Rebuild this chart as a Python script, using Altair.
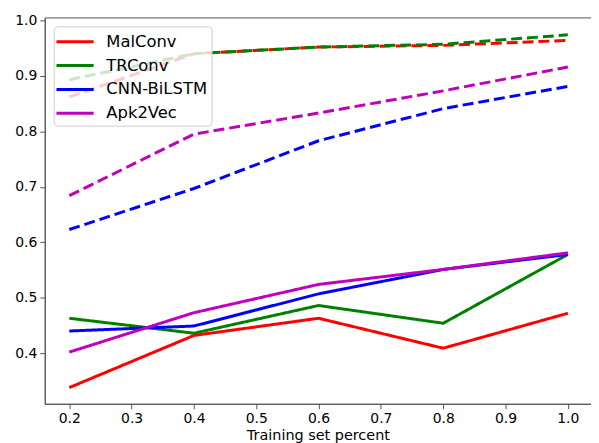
import altair as alt
import pandas as pd

x_vals = [0.2, 0.4, 0.6, 0.8, 1.0]
models = ["MalConv", "TRConv", "CNN-BiLSTM", "Apk2Vec"]
colors = ["#ff0000", "#008000", "#0000ff", "#bf00bf"]

solid = {
    "MalConv": [0.338, 0.432, 0.463, 0.409, 0.472],
    "TRConv": [0.463, 0.436, 0.486, 0.454, 0.578],
    "CNN-BiLSTM": [0.440, 0.449, 0.507, 0.551, 0.578],
    "Apk2Vec": [0.402, 0.473, 0.524, 0.551, 0.581],
}
dashed = {
    "MalConv": [0.862, 0.940, 0.952, 0.955, 0.964],
    "TRConv": [0.893, 0.940, 0.952, 0.957, 0.974],
    "CNN-BiLSTM": [0.623, 0.697, 0.783, 0.841, 0.881],
    "Apk2Vec": [0.684, 0.795, 0.833, 0.873, 0.916],
}

rows = []
for kind, d in [("dashed", dashed), ("solid", solid)]:
    for m in models:
        for xv, yv in zip(x_vals, d[m]):
            rows.append({"x": xv, "y": yv, "model": m, "kind": kind, "grp": m + kind})
df = pd.DataFrame(rows)

chart = alt.Chart(df).mark_line(strokeWidth=3).encode(
    x=alt.X("x:Q", title="Training set percent",
            scale=alt.Scale(domain=[0.1606, 1.0372], nice=False, zero=False),
            axis=alt.Axis(values=[0.2, 0.3, 0.4, 0.5, 0.6, 0.7, 0.8, 0.9, 1.0], format=".1f")),
    y=alt.Y("y:Q", title=None,
            scale=alt.Scale(domain=[0.3088, 1.0054], nice=False, zero=False),
            axis=alt.Axis(values=[0.4, 0.5, 0.6, 0.7, 0.8, 0.9, 1.0], format=".1f",
                          minExtent=37, maxExtent=37)),
    color=alt.Color("model:N", title=None,
                    scale=alt.Scale(domain=models, range=colors),
                    sort=models,
                    legend=alt.Legend(orient="top-left", offset=9)),
    strokeDash=alt.StrokeDash("kind:N", scale=alt.Scale(domain=["solid", "dashed"], range=[[1, 0], [11, 5]]), legend=None),
    detail="grp:N",
).properties(
    width=550, height=389,
    padding={"left": 0, "top": 4, "right": 0, "bottom": 0},
).configure_view(
    stroke="#555", strokeWidth=1
).configure_axis(
    grid=False, domainColor="#555", tickColor="#555", tickSize=5,
    labelFont="DejaVu Sans", labelFontSize=14, labelColor="black", labelPadding=3,
    titleFont="DejaVu Sans", titleFontSize=14.5, titleFontWeight="normal", titleColor="black",
    titlePadding=3,
).configure_legend(
    symbolType="M-1.87,0H1.87", symbolStrokeWidth=3, symbolSize=400,
    labelFont="DejaVu Sans", labelFontSize=16.5, labelColor="black",
    fillColor="rgba(255,255,255,0.8)", strokeColor="#cccccc", cornerRadius=4,
    padding=4, rowPadding=4, labelOffset=20, symbolOffset=6,
)

chart.save("out.html", embed_options={"renderer": "svg", "actions": False})
